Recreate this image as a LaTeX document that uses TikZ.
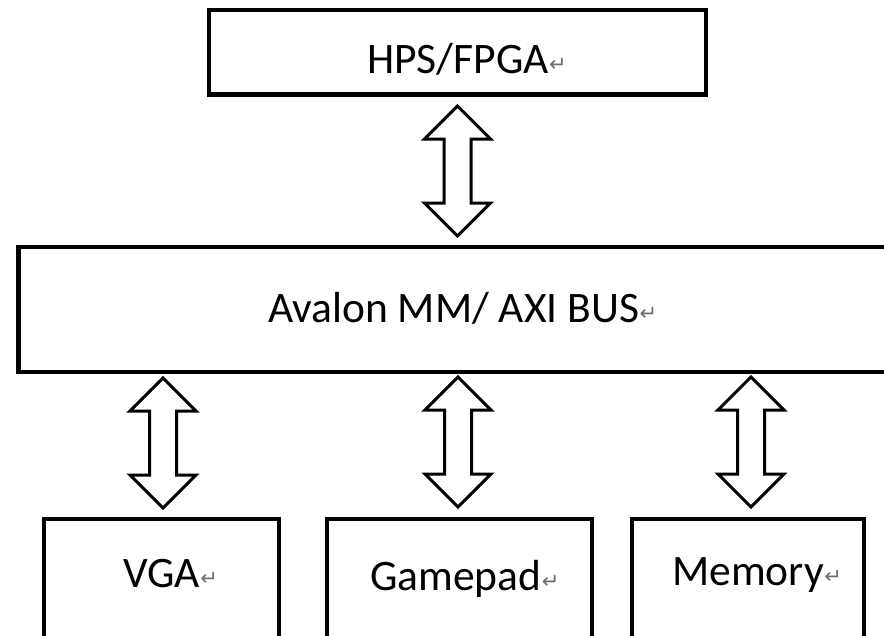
\documentclass[tikz,border=0pt]{standalone}
\usepackage{fontspec}
\setmainfont{Carlito}
\newfontfamily\symfont{DejaVu Sans}
\definecolor{retgray}{RGB}{110,110,110}
\newcommand{\retmark}{{\symfont\fontsize{21}{21}\selectfont\color{retgray}\kern0.5pt\raisebox{2pt}{↵}}}
\begin{document}
\begin{tikzpicture}[x=1pt,y=-1pt,
  box/.style={draw=black, line width=4.5pt, fill=white, inner sep=0pt, rectangle},
  lbl/.style={inner sep=0pt, anchor=base west, font=\fontsize{43.5}{50}\selectfont},
  arrowline/.style={draw=black, line width=3pt, fill=white, line join=miter, miter limit=10},
  dblarrow/.pic={\draw[arrowline] (0,0) -- (33,33) -- (13.5,33) -- (13.5,97) -- (33,97) -- (0,130)
     -- (-33,97) -- (-13.5,97) -- (-13.5,33) -- (-33,33) -- cycle;}]
\useasboundingbox (0,0) rectangle (884,635);
\begin{scope}
\clip (0,0) rectangle (884,635);
% boxes
\node[box, minimum width=497pt, minimum height=84.5pt] (hps) at (457.5,52.25) {};
\node[box, minimum width=901.5pt, minimum height=125pt] (bus) at (469.25,309.5) {};
\node[box, minimum width=235pt, minimum height=141pt] (vga) at (161.5,589.5) {};
\node[box, minimum width=265pt, minimum height=141pt] (pad) at (459.5,589.5) {};
\node[box, minimum width=232pt, minimum height=141pt] (mem) at (748,589.5) {};
% labels
\node[lbl] (hpst) at (367,73) {HPS/FPGA\retmark};
\node[lbl] (bust) at (268,322) {Avalon MM/ AXI BUS\retmark};
\node[lbl] (vgat) at (123,587) {VGA\retmark};
\node[lbl] (padt) at (370,590) {Gamepad\retmark};
\node[lbl] (memt) at (672,585) {Memory\retmark};
% block double arrows
\pic at (457.5,106) {dblarrow};
\pic at (163,378) {dblarrow};
\pic at (458,377) {dblarrow};
\pic at (751,377) {dblarrow};
\end{scope}
\end{tikzpicture}
\end{document}
